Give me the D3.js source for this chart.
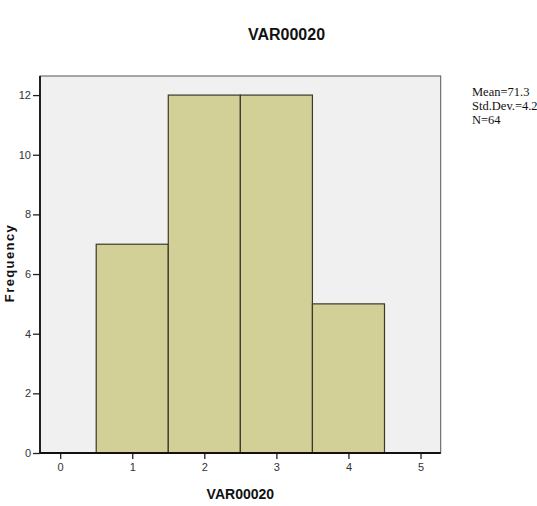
<!DOCTYPE html>
<html>
<head>
<meta charset="utf-8">
<script src="https://cdn.jsdelivr.net/npm/d3@7"></script>
<style>
  body { margin: 0; background: #fff; }
</style>
</head>
<body>
<svg id="chart" width="537" height="506"></svg>
<script>
// histogram data
const binCenters = [1, 2, 3, 4];
const frequencies = [7, 12, 12, 5];
const xTicks = [0, 1, 2, 3, 4, 5];
const yTicks = [0, 2, 4, 6, 8, 10, 12];
const statLines = ["Mean=71.3", "Std.Dev.=4.2", "N=64"];

const svg = d3.select("#chart");

const plot = { left: 40, right: 440.7, top: 76, bottom: 453 };

const x = d3.scaleLinear()
    .domain([-0.28, 5.28])
    .range([plot.left, plot.right]);

const y = d3.scaleLinear()
    .domain([0, 12.64])
    .range([plot.bottom, plot.top]);

// plot background
svg.append("rect")
    .attr("x", plot.left)
    .attr("y", plot.top)
    .attr("width", plot.right - plot.left)
    .attr("height", plot.bottom - plot.top)
    .attr("fill", "#f0f0f0")
    .attr("stroke", "#555")
    .attr("stroke-width", 1);

// bars
svg.selectAll(".bar")
    .data(binCenters)
    .enter().append("rect")
    .attr("class", "bar")
    .attr("x", d => x(d - 0.5))
    .attr("y", (d, i) => y(frequencies[i]))
    .attr("width", d => x(d + 0.5) - x(d - 0.5))
    .attr("height", (d, i) => y(0) - y(frequencies[i]))
    .attr("fill", "#d3d097")
    .attr("stroke", "#3a3a2a")
    .attr("stroke-width", 1.2);

// axes
const xAxis = svg.append("g")
    .attr("transform", `translate(0,${plot.bottom})`)
    .call(d3.axisBottom(x).tickValues(xTicks).tickSize(6).tickPadding(4).tickFormat(d3.format("d")));

const yAxis = svg.append("g")
    .attr("transform", `translate(${plot.left},0)`)
    .call(d3.axisLeft(y).tickValues(yTicks).tickSize(7).tickPadding(2).tickFormat(d3.format("d")));

[xAxis, yAxis].forEach(g => {
    g.select(".domain").remove();
    g.selectAll("line").attr("stroke", "#222").attr("stroke-width", 1.3);
    g.selectAll("text")
        .attr("fill", "#333")
        .style("font-family", "Arial, 'Liberation Sans', sans-serif")
        .style("font-size", "11px");
});

// axis lines drawn heavier than the frame
svg.append("line")
    .attr("x1", plot.left).attr("x2", plot.right)
    .attr("y1", plot.bottom).attr("y2", plot.bottom)
    .attr("stroke", "#111").attr("stroke-width", 1.8);
svg.append("line")
    .attr("x1", plot.left).attr("x2", plot.left)
    .attr("y1", plot.top).attr("y2", plot.bottom)
    .attr("stroke", "#111").attr("stroke-width", 1.8);

// title
svg.append("text")
    .attr("x", 286.5)
    .attr("y", 40)
    .attr("text-anchor", "middle")
    .style("font-family", "Arial, 'Liberation Sans', sans-serif")
    .style("font-size", "16px")
    .style("font-weight", "bold")
    .attr("fill", "#111")
    .text("VAR00020");

// x label
svg.append("text")
    .attr("x", (plot.left + plot.right) / 2)
    .attr("y", 499)
    .attr("text-anchor", "middle")
    .style("font-family", "Arial, 'Liberation Sans', sans-serif")
    .style("font-size", "14px")
    .style("font-weight", "bold")
    .attr("fill", "#111")
    .text("VAR00020");

// y label
svg.append("text")
    .attr("transform", "translate(14,263) rotate(-90)")
    .attr("text-anchor", "middle")
    .style("font-family", "Arial, 'Liberation Sans', sans-serif")
    .style("font-size", "13px")
    .style("font-weight", "bold")
    .style("letter-spacing", "1.4px")
    .attr("fill", "#111")
    .text("Frequency");

// stats box
svg.selectAll(".stat")
    .data(statLines)
    .enter().append("text")
    .attr("class", "stat")
    .attr("x", 472)
    .attr("y", (d, i) => 96 + i * 14)
    .style("font-family", "'Liberation Serif', 'Times New Roman', serif")
    .style("font-size", "12.5px")
    .attr("fill", "#111")
    .text(d => d);
</script>
</body>
</html>
